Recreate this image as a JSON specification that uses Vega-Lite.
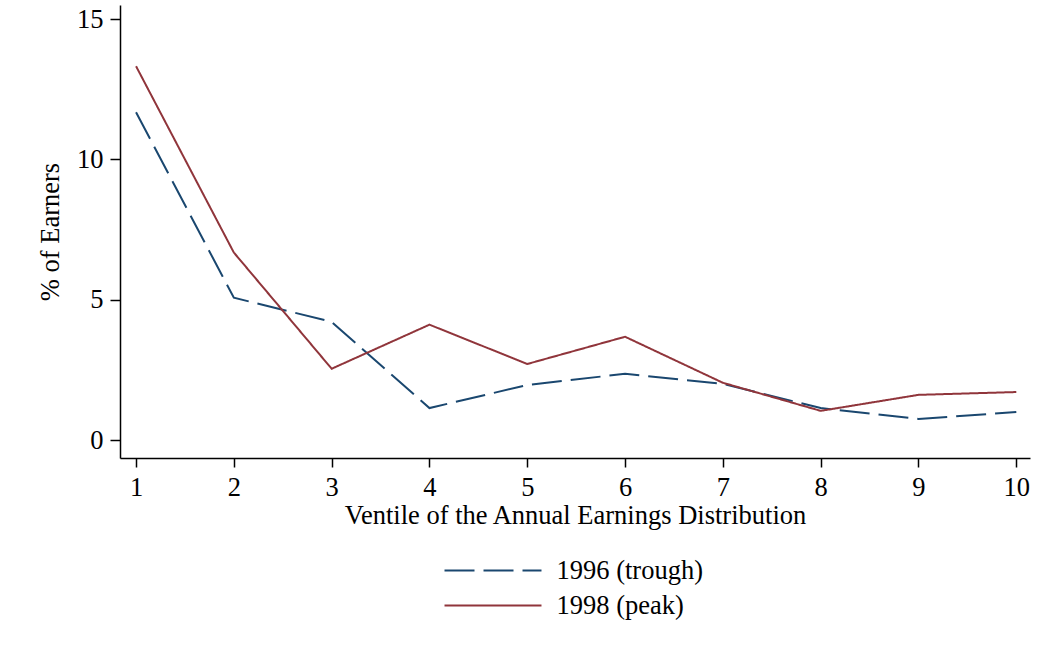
{
  "$schema": "https://vega.github.io/schema/vega-lite/v6.json",
  "width": 910,
  "height": 453,
  "autosize": {"type": "none"},
  "padding": {"left": 120, "top": 5, "right": 17, "bottom": 206},
  "background": "white",
  "config": {
    "view": {"stroke": null},
    "font": "Liberation Serif",
    "axis": {"labelFont": "Liberation Serif", "titleFont": "Liberation Serif", "labelFontSize": 26.5, "titleFontSize": 26.5, "titleFontWeight": "normal", "labelColor": "black", "titleColor": "black", "domainColor": "black", "tickColor": "black", "domainWidth": 1.5, "tickWidth": 1.5, "grid": false},
    "legend": {"labelFont": "Liberation Serif", "labelFontSize": 26.5, "labelColor": "black"}
  },
  "data": {
    "values": [
      {"v": 1, "pct": 11.68, "series": "1996 (trough)"},
      {"v": 2, "pct": 5.07, "series": "1996 (trough)"},
      {"v": 3, "pct": 4.21, "series": "1996 (trough)"},
      {"v": 4, "pct": 1.14, "series": "1996 (trough)"},
      {"v": 5, "pct": 1.96, "series": "1996 (trough)"},
      {"v": 6, "pct": 2.36, "series": "1996 (trough)"},
      {"v": 7, "pct": 2.0, "series": "1996 (trough)"},
      {"v": 8, "pct": 1.14, "series": "1996 (trough)"},
      {"v": 9, "pct": 0.75, "series": "1996 (trough)"},
      {"v": 10, "pct": 1.0, "series": "1996 (trough)"},
      {"v": 1, "pct": 13.32, "series": "1998 (peak)"},
      {"v": 2, "pct": 6.68, "series": "1998 (peak)"},
      {"v": 3, "pct": 2.54, "series": "1998 (peak)"},
      {"v": 4, "pct": 4.11, "series": "1998 (peak)"},
      {"v": 5, "pct": 2.71, "series": "1998 (peak)"},
      {"v": 6, "pct": 3.68, "series": "1998 (peak)"},
      {"v": 7, "pct": 2.04, "series": "1998 (peak)"},
      {"v": 8, "pct": 1.04, "series": "1998 (peak)"},
      {"v": 9, "pct": 1.61, "series": "1998 (peak)"},
      {"v": 10, "pct": 1.71, "series": "1998 (peak)"}
    ]
  },
  "mark": {"type": "line", "strokeWidth": 2},
  "encoding": {
    "x": {
      "field": "v", "type": "quantitative",
      "scale": {"domain": [0.836, 10.14], "nice": false, "zero": false},
      "axis": {"values": [1,2,3,4,5,6,7,8,9,10], "title": "Ventile of the Annual Earnings Distribution", "tickSize": 9, "labelPadding": 7, "titlePadding": 2, "labelFlush": false}
    },
    "y": {
      "field": "pct", "type": "quantitative",
      "scale": {"domain": [-0.64, 15.5], "nice": false, "zero": false},
      "axis": {"values": [0,5,10,15], "title": "% of Earners", "tickSize": 10, "labelPadding": 7, "titlePadding": 12, "labelFlush": false}
    },
    "color": {
      "field": "series", "type": "nominal",
      "scale": {"range": ["#1a476f", "#90353b"]},
      "legend": {"title": null, "orient": "none", "legendX": 355.5, "legendY": 548, "direction": "vertical", "symbolType": "M-3,0H3", "symbolSize": 1045, "symbolStrokeWidth": 2, "symbolFillColor": "transparent", "labelOffset": 46, "rowPadding": 4}
    },
    "strokeDash": {
      "field": "series", "type": "nominal",
      "scale": {"range": [[30, 9], [1, 0]]},
      "legend": {"title": null, "orient": "none", "legendX": 355.5, "legendY": 548, "direction": "vertical", "symbolType": "M-3,0H3", "symbolSize": 1045, "symbolStrokeWidth": 2, "symbolFillColor": "transparent", "labelOffset": 46, "rowPadding": 4}
    }
  }
}
